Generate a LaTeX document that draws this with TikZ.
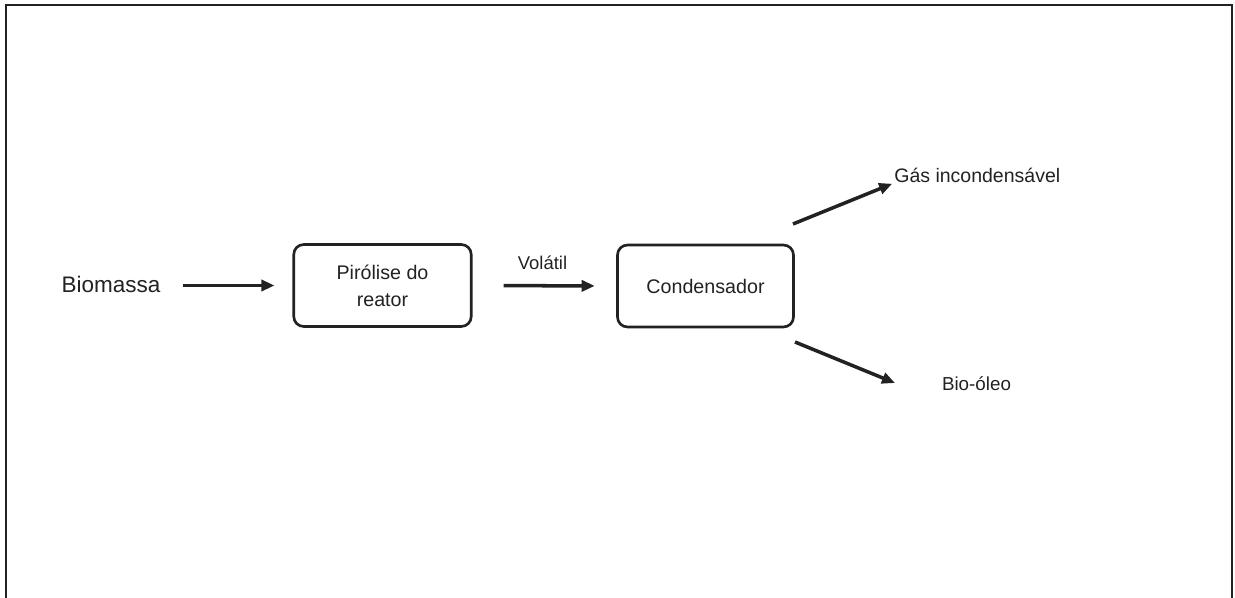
\documentclass[tikz,border=0pt]{standalone}
\usepackage{fontspec}
\setmainfont{Liberation Sans}
\usetikzlibrary{arrows.meta}

\definecolor{ink}{HTML}{222222}

\begin{document}
\begin{tikzpicture}[x=0.02cm,y=-0.02cm,
	stage/.style={draw=ink,line width=1.5pt,rounded corners=0.2cm,minimum width=3.55cm,minimum height=1.64cm,align=center,text=ink,font=\fontsize{11.2}{15.2}\selectfont},
	label/.style={inner sep=0pt,text=ink,font=\fontsize{11.1}{13}\selectfont},
	flow/.style={draw=ink,line width=2pt,-{Triangle[length=0.26cm,width=0.22cm]}}]
	\useasboundingbox (0,0) rectangle (1235,598);
	% open frame, no bottom edge
	\draw[ink,line width=1.1pt] (6,598) -- (6,5) -- (1232,5) -- (1232,598);

	\node[label,anchor=base,font=\fontsize{12.8}{15}\selectfont] (biomassa) at (111,292.7) {Biomassa};
	\node[stage] (reator) at (382.5,285.5) {Pirólise do\\reator};
	\node[stage,minimum width=3.52cm] (cond) at (705.5,286) {Condensador};

	\node[label,anchor=base,font=\fontsize{10.5}{12}\selectfont] (volatil) at (542.5,270) {Volátil};
	\node[label,anchor=base west] (gas) at (894,183) {Gás incondensável};
	\node[label,anchor=base,font=\fontsize{10.7}{12}\selectfont] (oleo) at (976.5,390) {Bio-óleo};

	\coordinate (gasout) at (793,224);
	\coordinate (oleoout) at (795,342);
	\coordinate (oleoin) at (895,383);

	\draw[flow,shorten <=0.44cm,shorten >=0.36cm] (biomassa.east |- reator.west) -- (reator.west);
	\draw[flow,shorten <=0.62cm,shorten >=0.43cm] (reator.east) -- (cond.west);
	\draw[flow,shorten >=0.04cm] (gasout) -- (gas.base west);
	\draw[flow] (oleoout) -- (oleoin);
\end{tikzpicture}
\end{document}
